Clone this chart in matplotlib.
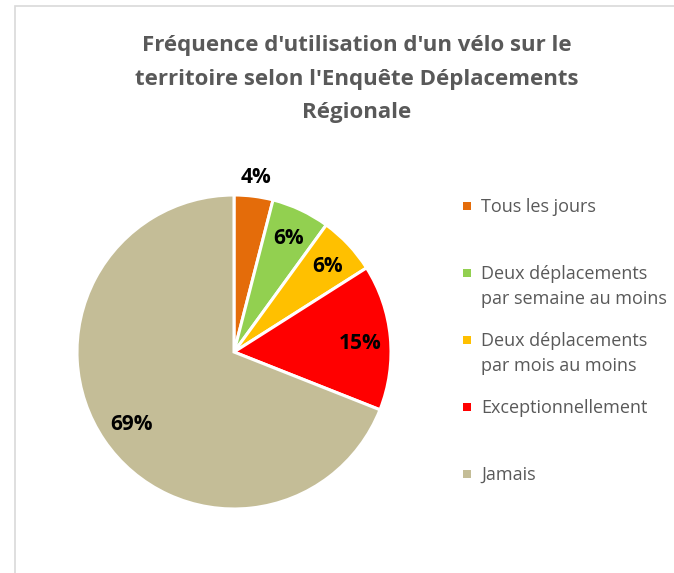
import numpy as np
import matplotlib
matplotlib.use("Agg")
import matplotlib.pyplot as plt
from matplotlib.patches import Rectangle

categories = [
    "Tous les jours",
    "Deux déplacements\npar semaine au moins",
    "Deux déplacements\npar mois au moins",
    "Exceptionnellement",
    "Jamais",
]
values = [4, 6, 6, 15, 69]
colors = ["#E46C0A", "#92D050", "#FFC000", "#FF0000", "#C4BD97"]
title = "Fréquence d'utilisation d'un vélo sur le\nterritoire selon l'Enquête Déplacements\nRégionale"

FONT = ["Open Sans", "DejaVu Sans"]
W, H = 674, 573
fig = plt.figure(figsize=(W / 100, H / 100), dpi=100)
ax = fig.add_axes([0, 0, 1, 1])

# chart frame
ax.add_patch(Rectangle((15, -10), W + 20, H - 6 + 10, fill=False,
                       edgecolor="#D9D9D9", linewidth=1.2))

cx, cy, r = 234, H - 352, 157
wedges, _ = ax.pie(values, colors=colors, startangle=90, counterclock=False,
                   center=(cx, cy), radius=r,
                   wedgeprops=dict(edgecolor="white", linewidth=2.2))
ax.set_xlim(0, W)
ax.set_ylim(0, H)
ax.set_aspect("equal")
ax.axis("off")

# percentage labels
total = sum(values)
dists = [1.14, 0.82, 0.82, 0.81, 0.79]
cum = 0
for v, d in zip(values, dists):
    mid = cum + v / 2
    cum += v
    ang = np.deg2rad(90 - 360 * mid / total)
    ax.text(cx + d * r * np.cos(ang), cy + d * r * np.sin(ang) - 3, f"{v}%",
            ha="center", va="center", fontsize=15, fontweight="bold",
            color="black", family=FONT)

ax.text(357, H - 79, title, ha="center", va="center", fontsize=16,
        fontweight="bold", color="#595959", family=FONT, linespacing=1.8)

# legend
ys = [206, 273, 340, 407, 474]
for lab, col, y in zip(categories, colors, ys):
    ax.add_patch(Rectangle((463, H - y - 4), 8, 8, facecolor=col, edgecolor="none"))
    ax.text(481, H - y + 8, lab, ha="left", va="top", fontsize=13,
            color="#595959", family=FONT, linespacing=1.5)

fig.savefig("out.png", dpi=100)
